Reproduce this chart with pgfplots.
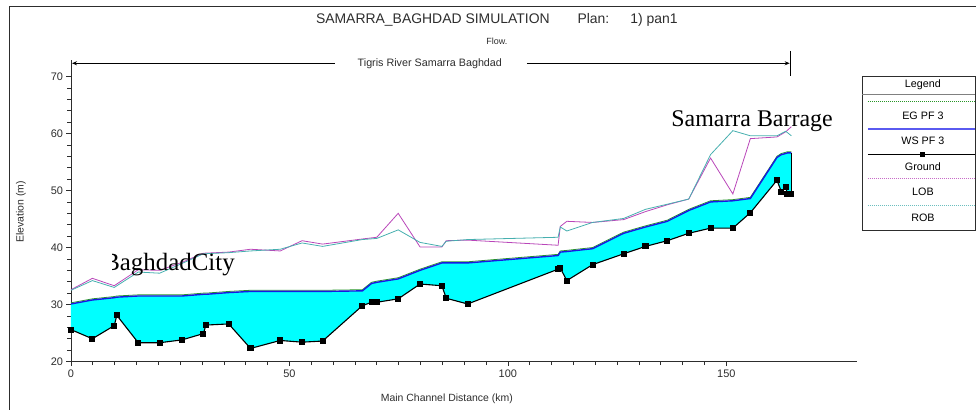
\documentclass[border=0pt]{standalone}
\usepackage{fontspec}
\setmainfont{Liberation Sans}
\newfontfamily\seriffont{Liberation Serif}
\usepackage{pgfplots}
\usepackage{pgfplotstable}
\pgfplotsset{compat=1.18}
\usepgfplotslibrary{fillbetween}
\usetikzlibrary{arrows.meta}

\definecolor{lobc}{RGB}{185,70,185}
\definecolor{robc}{RGB}{70,175,175}
\definecolor{egc}{RGB}{40,150,40}
\definecolor{wsc}{RGB}{25,25,225}
\definecolor{wslc}{RGB}{90,90,240}
\definecolor{axc}{RGB}{45,45,45}
\definecolor{aqua}{RGB}{0,255,255}

\pgfplotstableread{
x y
0 25.6
4.9 24.0
9.9 26.3
10.5 28.1
15.4 23.3
20.3 23.3
25.4 23.8
30.3 24.9
30.9 26.4
36.1 26.6
41.1 22.3
47.9 23.7
52.9 23.4
57.6 23.6
66.7 29.8
68.8 30.4
70.0 30.4
74.9 31.0
79.9 33.6
84.9 33.3
85.9 31.1
90.8 30.1
111.5 36.2
112.0 36.4
113.5 34.2
119.4 37.0
126.5 38.9
131.5 40.2
136.5 41.2
141.4 42.5
146.4 43.4
151.5 43.4
155.5 46.1
161.6 51.8
162.6 49.8
163.6 50.6
164.0 49.4
164.9 49.4
}\ground

\pgfplotstableread{
x ws eg
0 30.1 30.3
4.9 30.8 31.0
9.9 31.2 31.4
10.5 31.3 31.5
15.4 31.5 31.7
20.3 31.5 31.7
25.4 31.5 31.7
30.3 31.8 32.0
30.9 31.8 32.0
36.1 32.1 32.3
41.1 32.3 32.5
47.9 32.3 32.5
52.9 32.3 32.5
57.6 32.3 32.5
66.7 32.4 32.6
68.8 33.7 33.9
70.0 33.9 34.1
74.9 34.5 34.7
79.9 36.0 36.2
84.9 37.3 37.5
85.9 37.3 37.5
90.8 37.3 37.5
111.5 38.6 38.8
112.0 39.2 39.4
113.5 39.3 39.5
119.4 39.8 40.0
126.5 42.5 42.7
131.5 43.6 43.8
136.5 44.6 44.8
141.4 46.5 46.7
146.4 48.0 48.2
151.5 48.2 48.4
155.5 48.6 48.8
161.6 55.8 56.0
162.6 56.3 56.5
163.6 56.5 56.7
164.0 56.6 56.8
164.9 56.6 56.8
}\wstab

\pgfplotstableread{
x y
0 32.6
4.9 34.6
9.9 33.3
15.4 36.1
20.3 36.0
25.4 37.4
30.3 39.0
36.1 39.2
41.1 39.7
47.9 39.4
52.9 41.2
57.6 40.6
66.7 41.5
70.0 41.8
74.9 46.0
79.9 40.1
84.9 40.1
85.9 41.2
90.8 41.3
111.5 40.4
112.0 43.7
113.5 44.6
119.4 44.4
126.5 44.9
131.5 46.3
136.5 47.5
141.4 48.5
146.4 55.7
151.5 49.4
155.5 59.1
161.6 59.4
163.6 60.3
164.9 61.2
}\lob

\pgfplotstableread{
x y
0 32.5
4.9 34.2
9.9 33.0
15.4 35.7
20.3 35.5
25.4 37.2
30.3 38.9
36.1 39.1
41.1 39.4
47.9 39.7
52.9 40.8
57.6 40.2
66.7 41.4
70.0 41.6
74.9 43.1
79.9 40.9
84.9 40.2
85.9 41.1
90.8 41.4
111.5 41.8
112.0 43.6
113.5 42.9
119.4 44.4
126.5 45.1
131.5 46.7
136.5 47.6
141.4 48.5
146.4 56.3
151.5 60.5
155.5 59.6
161.6 59.6
163.6 60.4
164.9 59.6
}\rob

\pgfplotstableread{
x y
164.9 49.4
164.9 56.6
}\endwall

\begin{document}
\begin{tikzpicture}[x=1bp,y=1bp]
\path (0,0) rectangle (976,410);
% outer frame
\draw[axc, line width=0.8bp] (9.5,0) -- (9.5,404) -- (976,404);

\begin{axis}[
  at={(71bp,48.3bp)}, anchor=south west,
  scale only axis, width=786.7bp, height=301.7bp,
  xmin=0, xmax=180, ymin=20, ymax=72.9,
  axis x line*=bottom, axis y line*=left,
  axis line style={axc, line width=0.9bp, -},
  xtick={0,50,100,150}, minor x tick num=9,
  ytick={20,30,40,50,60,70}, minor y tick num=4,
  tick align=outside,
  major tick length=4.5bp, minor tick length=3.5bp,
  every tick/.style={axc, line width=0.7bp},
  every minor tick/.style={axc, line width=0.7bp},
  ticklabel style={font=\fontsize{11}{13}\selectfont, text=axc},
  /pgf/number format/assume math mode=true,
  xticklabel style={yshift=-0.5bp},
]
\addplot[draw=none, name path=ws] table[x=x, y=ws] {\wstab};
\addplot[draw=none, name path=gr] table[x=x, y=y] {\ground};
\addplot[fill=aqua, draw=none] fill between[of=ws and gr];
\addplot[lobc, line width=0.8bp] table[x=x, y=y] {\lob};
\addplot[robc, line width=0.8bp] table[x=x, y=y] {\rob};
\addplot[egc, line width=0.8bp] table[x=x, y=eg] {\wstab};
\addplot[wsc, line width=1.4bp] table[x=x, y=ws] {\wstab};
\addplot[black, line width=0.9bp] table[x=x, y=y] {\endwall};
\addplot[black, line width=1.1bp, mark=square*, mark size=2.5bp, mark options={solid, fill=black}] table[x=x, y=y] {\ground};
\end{axis}

% titles
\node[font=\fontsize{14}{16}\selectfont, text=axc] at (497,390) {SAMARRA\_BAGHDAD SIMULATION\hspace{2em}Plan:\hspace{1.5em}1) pan1};
\node[font=\fontsize{9}{11}\selectfont, text=axc] at (497,368.5) {Flow.};

% reach arrow
\draw[black, line width=0.8bp, -{Stealth[length=5bp,width=4bp]}] (335,346.7) -- (72,346.7);
\draw[black, line width=0.8bp, -{Stealth[length=5bp,width=4bp]}] (527,346.7) -- (790,346.7);
\draw[black, line width=1bp] (790.7,359) -- (790.7,334);
\node[font=\fontsize{10.8}{12}\selectfont, text=axc] at (430,346.7) {Tigris River Samarra Baghdad};

% axis labels
\node[rotate=90, font=\fontsize{10.5}{12}\selectfont, text=axc] at (21,198) {Elevation (m)};
\node[font=\fontsize{10.5}{12}\selectfont, text=axc] at (447,11) {Main Channel Distance (km)};

% annotations
\node[font=\seriffont\fontsize{24}{28}\selectfont, anchor=base west, inner sep=0pt] at (671.5,283.3) {Samarra Barrage};
\begin{scope}
\clip (113,120) rectangle (260,170);
\node[font=\seriffont\fontsize{25}{28}\selectfont, anchor=base east, inner sep=0pt] at (235,139.3) {BaghdadCity};
\end{scope}

% legend
\draw[axc, line width=0.8bp, fill=white] (862.3,334) -- (975.6,334) -- (975.6,180) -- (862.3,180) -- cycle;
\node[font=\fontsize{10.8}{12}\selectfont] at (923.3,325) {Legend};
\draw[gray, line width=0.7bp] (862.3,315.7) -- (975.6,315.7);
\draw[egc, line width=0.8bp, dash pattern=on 1.2bp off 0.8bp] (868.3,309) -- (975.6,309);
\node[font=\fontsize{10.8}{12}\selectfont] at (923.3,294.3) {EG PF 3};
\draw[wslc, line width=1.4bp] (868.3,281) -- (975.6,281);
\node[font=\fontsize{10.8}{12}\selectfont] at (923.3,269.3) {WS PF 3};
\draw[black, line width=1bp] (868.3,255.7) -- (975.6,255.7);
\fill[black] (920.8,253.2) rectangle (925.8,258.2);
\node[font=\fontsize{10.8}{12}\selectfont] at (923.3,243.3) {Ground};
\draw[lobc!80, line width=0.8bp, dash pattern=on 1.2bp off 0.8bp] (868.3,231.3) -- (975.6,231.3);
\node[font=\fontsize{10.8}{12}\selectfont] at (923.3,217.7) {LOB};
\draw[robc!80, line width=0.8bp, dash pattern=on 1.2bp off 0.8bp] (868.3,204.3) -- (975.6,204.3);
\node[font=\fontsize{10.8}{12}\selectfont] at (923.3,192.3) {ROB};
\end{tikzpicture}
\end{document}
